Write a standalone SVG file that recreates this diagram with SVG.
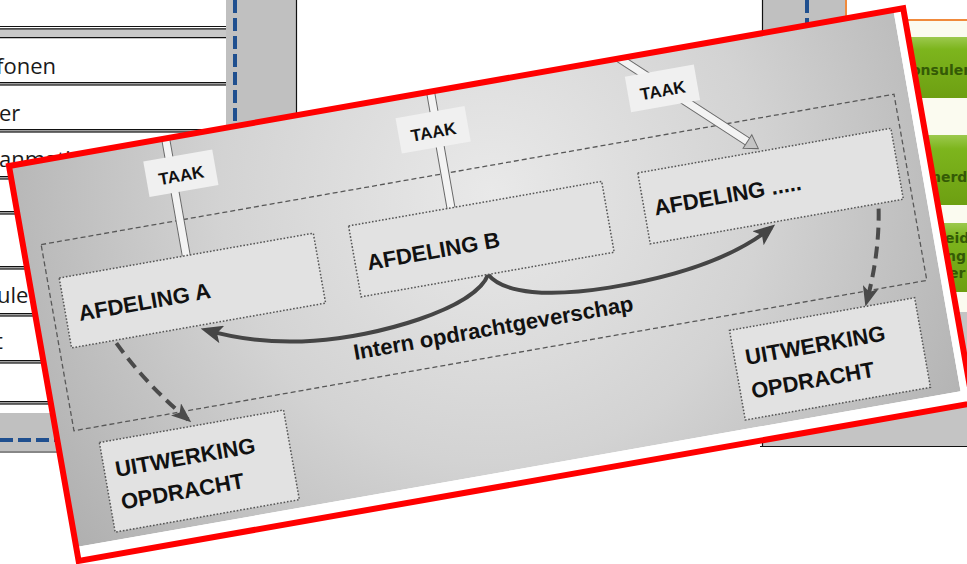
<svg xmlns="http://www.w3.org/2000/svg" width="967" height="564" viewBox="0 0 967 564">
<defs>
<radialGradient id="bg" gradientUnits="userSpaceOnUse" cx="470" cy="110" r="540">
<stop offset="0" stop-color="#e9e9e9"/>
<stop offset="0.5" stop-color="#d3d3d3"/>
<stop offset="1" stop-color="#b0b0b0"/>
</radialGradient>
<linearGradient id="grn" x1="0" y1="0" x2="0" y2="1">
<stop offset="0" stop-color="#9cc94e"/>
<stop offset="0.2" stop-color="#7db51d"/>
<stop offset="1" stop-color="#6d9f12"/>
</linearGradient>
<clipPath id="imgclip"><rect x="0" y="0" width="898" height="387"/></clipPath>
<marker id="mDash" viewBox="0 0 20 16" refX="16" refY="8" markerWidth="20" markerHeight="16" markerUnits="userSpaceOnUse" orient="auto"><path d="M0,0 L20,8 L0,16 L5,8 z" fill="#4a4a4a"/></marker>
<marker id="mSolid" viewBox="0 0 22 18" refX="17" refY="9" markerWidth="22" markerHeight="18" markerUnits="userSpaceOnUse" orient="auto"><path d="M0,0 L22,9 L0,18 L5,9 z" fill="#454545"/></marker>
<g id="hollow">
<rect x="-4" y="-230" width="8" height="217" fill="#f3f3f3"/>
<path d="M-4,-230 V-13 M4,-230 V-13" stroke="#6a6a6a" stroke-width="1" fill="none"/>
<path d="M-8,-13 L8,-13 L0,0 z" fill="#c4c4c4" stroke="#6a6a6a" stroke-width="1"/>
</g>
</defs>
<style>
.lbl{font-family:"Liberation Sans",Arial,sans-serif;font-weight:bold;font-size:22px;fill:#111}
.taak{font-family:"Liberation Sans",Arial,sans-serif;font-weight:bold;font-size:17px;fill:#111;text-anchor:middle}
.tbl{font-family:"Open Sans",sans-serif;font-size:22px;fill:#1a1a1a}
.grt{font-family:"DejaVu Sans",sans-serif;font-size:14px;font-weight:bold;fill:#345a06}
.box{fill:#e2e2e2;stroke:#555;stroke-width:1.5;stroke-dasharray:1.6 1.8}
.outer{fill:none;stroke:#585858;stroke-width:1.3;stroke-dasharray:5 3}
.tlabel{fill:#f0f0f0}
.dash{fill:none;stroke:#4a4a4a;stroke-width:4;stroke-dasharray:12 7;marker-end:url(#mDash)}
.brace{fill:none;stroke:#454545;stroke-width:4;marker-end:url(#mSolid)}
.bl{stroke:#111;stroke-width:1.2;fill:none}
</style>

<rect x="0" y="0" width="967" height="564" fill="#ffffff"/>

<g id="background-screen">
  <rect x="0" y="29" width="226" height="8" fill="#c8c8c8"/>
  <g fill="#a0a0a0">
    <rect x="0" y="82" width="226" height="3.5"/>
    <rect x="0" y="129" width="226" height="3.5"/>
    <rect x="0" y="176" width="226" height="3.5"/>
    <rect x="0" y="211" width="226" height="3.5"/>
    <rect x="0" y="266" width="226" height="3.5"/>
    <rect x="0" y="313" width="226" height="3.5"/>
    <rect x="0" y="360" width="226" height="3.5"/>
    <rect x="0" y="401" width="226" height="3.5"/>
  </g>
  <path class="bl" d="M0,26.5H226M0,28.8H226M0,37.6H226M0,82.5H226M0,85H226M0,129.5H226M0,132H226M0,176.5H226M0,179H226M0,211.5H226M0,214H226M0,266.5H226M0,269H226M0,313.5H226M0,316H226M0,360.5H226M0,363H226M0,401.5H226M0,404H226"/>
  <text class="tbl" x="-4" y="74">fonen</text>
  <text class="tbl" x="-1" y="121">er</text>
  <text class="tbl" x="-1" y="167">anmatie</text>
  <text class="tbl" x="-3" y="303">ule</text>
  <text class="tbl" x="-5" y="349">t</text>
  <rect x="226" y="0" width="70" height="452" fill="#c0c0c0"/>
  <rect x="0" y="413" width="296" height="38" fill="#c0c0c0"/>
  <path d="M235,0V413" stroke="#1f4f8f" stroke-width="4" stroke-dasharray="13 5"/>
  <path d="M0,440H296" stroke="#1f4f8f" stroke-width="4" stroke-dasharray="13 5"/>
  <path class="bl" d="M296.5,0V452M0,452H296" stroke-width="1.6"/>
  <rect x="762" y="0" width="84" height="446" fill="#c0c0c0"/>
  <rect x="847" y="21" width="120" height="291" fill="#fbfbf0"/>
  <rect x="762" y="312" width="205" height="134" fill="#c4c4c4"/>
  <path d="M807,0V312" stroke="#1f4f8f" stroke-width="4" stroke-dasharray="13 5"/>
  <path class="bl" d="M762.5,0V446M760,446.5H967" stroke-width="1.6"/>
  <path d="M846,0V20H967" stroke="#f08a3c" stroke-width="2" fill="none"/>
  <rect x="850" y="37" width="117" height="61" fill="url(#grn)"/>
  <rect x="850" y="135" width="117" height="70" fill="url(#grn)"/>
  <rect x="850" y="223" width="117" height="69" fill="url(#grn)"/>
  <text class="grt" x="911" y="75">onsulen</text>
  <text class="grt" x="931" y="182">nerde</text>
  <text class="grt" x="945" y="243">eid</text>
  <text class="grt" x="946" y="261">ng</text>
  <text class="grt" x="949" y="278">er</text>
</g>

<g id="overlay" transform="translate(9,166) rotate(-10)">
  <rect x="0" y="0" width="908" height="401" fill="#ffffff"/>
  <g clip-path="url(#imgclip)">
    <rect x="0" y="0" width="898" height="387" fill="url(#bg)"/>
    <rect id="outer-frame" class="outer" x="18" y="83" width="866" height="189"/>

    <g id="connectors">
      <use href="#hollow" transform="translate(159,133)"/>
      <use href="#hollow" transform="translate(428,132)"/>
      <use href="#hollow" transform="translate(741,113) rotate(-47)"/>
      <path class="dash" d="M75,193 Q97,239 132.4,280.9"/>
      <path class="dash" d="M849,193 Q842,238 820.7,283.4"/>
      <path class="brace" d="M453,190 C435,222 330,232 270,225 C230,221 195,210 165,195.5"/>
      <path class="brace" d="M453,190 C465,212 510,223 570,224 C640,225 700,215 740,193"/>
      <text class="lbl" x="307" y="251">Intern opdrachtgeverschap</text>
    </g>

    <g id="taakA"><rect class="tlabel" x="133" y="19" width="70" height="36"/><text class="taak" x="168" y="45">TAAK</text></g>
    <g id="taakB"><rect class="tlabel" x="389" y="20" width="70" height="36"/><text class="taak" x="424" y="46">TAAK</text></g>
    <g id="taakC"><rect class="tlabel" x="622" y="19" width="70" height="36"/><text class="taak" x="657" y="45">TAAK</text></g>

    <g id="afdelingA"><rect class="box" x="30" y="119" width="258" height="71"/><text class="lbl" x="43" y="165">AFDELING A</text></g>
    <g id="afdelingB"><rect class="box" x="324" y="118" width="257" height="72"/><text class="lbl" x="336" y="165">AFDELING B</text></g>
    <g id="afdelingC"><rect class="box" x="618" y="116" width="257" height="72"/><text class="lbl" x="628" y="161">AFDELING .....</text></g>

    <g id="uitwerkingA"><rect class="box" x="41" y="288" width="187" height="91"/><text class="lbl" x="52" y="325">UITWERKING</text><text class="lbl" x="52" y="358">OPDRACHT</text></g>
    <g id="uitwerkingC"><rect class="box" x="681" y="287" width="188" height="91"/><text class="lbl" x="692" y="324">UITWERKING</text><text class="lbl" x="692" y="358">OPDRACHT</text></g>
  </g>
  <rect x="0" y="0" width="908" height="401" fill="none" stroke="#ff0000" stroke-width="6"/>
</g>
</svg>
